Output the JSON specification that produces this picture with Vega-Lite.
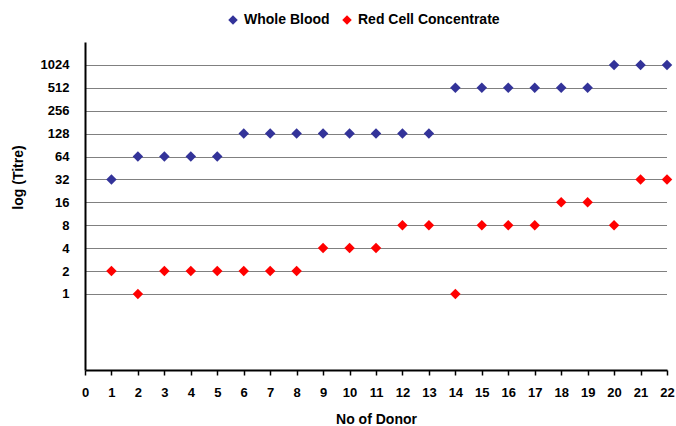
{
  "$schema": "https://vega.github.io/schema/vega-lite/v6.json",
  "width": 582,
  "height": 328,
  "autosize": {"type": "none"},
  "padding": {"left": 85, "top": 42, "right": 9, "bottom": 56},
  "background": "white",
  "config": {
    "view": {"stroke": null},
    "font": "Liberation Sans"
  },
  "data": {
    "values": [
      {"donor": 1, "series": "Whole Blood", "titre": 32},
      {"donor": 2, "series": "Whole Blood", "titre": 64},
      {"donor": 3, "series": "Whole Blood", "titre": 64},
      {"donor": 4, "series": "Whole Blood", "titre": 64},
      {"donor": 5, "series": "Whole Blood", "titre": 64},
      {"donor": 6, "series": "Whole Blood", "titre": 128},
      {"donor": 7, "series": "Whole Blood", "titre": 128},
      {"donor": 8, "series": "Whole Blood", "titre": 128},
      {"donor": 9, "series": "Whole Blood", "titre": 128},
      {"donor": 10, "series": "Whole Blood", "titre": 128},
      {"donor": 11, "series": "Whole Blood", "titre": 128},
      {"donor": 12, "series": "Whole Blood", "titre": 128},
      {"donor": 13, "series": "Whole Blood", "titre": 128},
      {"donor": 14, "series": "Whole Blood", "titre": 512},
      {"donor": 15, "series": "Whole Blood", "titre": 512},
      {"donor": 16, "series": "Whole Blood", "titre": 512},
      {"donor": 17, "series": "Whole Blood", "titre": 512},
      {"donor": 18, "series": "Whole Blood", "titre": 512},
      {"donor": 19, "series": "Whole Blood", "titre": 512},
      {"donor": 20, "series": "Whole Blood", "titre": 1024},
      {"donor": 21, "series": "Whole Blood", "titre": 1024},
      {"donor": 22, "series": "Whole Blood", "titre": 1024},
      {"donor": 1, "series": "Red Cell Concentrate", "titre": 2},
      {"donor": 2, "series": "Red Cell Concentrate", "titre": 1},
      {"donor": 3, "series": "Red Cell Concentrate", "titre": 2},
      {"donor": 4, "series": "Red Cell Concentrate", "titre": 2},
      {"donor": 5, "series": "Red Cell Concentrate", "titre": 2},
      {"donor": 6, "series": "Red Cell Concentrate", "titre": 2},
      {"donor": 7, "series": "Red Cell Concentrate", "titre": 2},
      {"donor": 8, "series": "Red Cell Concentrate", "titre": 2},
      {"donor": 9, "series": "Red Cell Concentrate", "titre": 4},
      {"donor": 10, "series": "Red Cell Concentrate", "titre": 4},
      {"donor": 11, "series": "Red Cell Concentrate", "titre": 4},
      {"donor": 12, "series": "Red Cell Concentrate", "titre": 8},
      {"donor": 13, "series": "Red Cell Concentrate", "titre": 8},
      {"donor": 14, "series": "Red Cell Concentrate", "titre": 1},
      {"donor": 15, "series": "Red Cell Concentrate", "titre": 8},
      {"donor": 16, "series": "Red Cell Concentrate", "titre": 8},
      {"donor": 17, "series": "Red Cell Concentrate", "titre": 8},
      {"donor": 18, "series": "Red Cell Concentrate", "titre": 16},
      {"donor": 19, "series": "Red Cell Concentrate", "titre": 16},
      {"donor": 20, "series": "Red Cell Concentrate", "titre": 8},
      {"donor": 21, "series": "Red Cell Concentrate", "titre": 32},
      {"donor": 22, "series": "Red Cell Concentrate", "titre": 32}
    ]
  },
  "mark": {"type": "point", "shape": "diamond", "filled": true, "size": 110, "opacity": 1},
  "encoding": {
    "x": {
      "field": "donor",
      "type": "quantitative",
      "scale": {"domain": [0, 22], "nice": false, "zero": false},
      "axis": {
        "title": "No of Donor",
        "values": [0,1,2,3,4,5,6,7,8,9,10,11,12,13,14,15,16,17,18,19,20,21,22],
        "grid": false,
        "domainColor": "black",
        "domainWidth": 2,
        "tickColor": "black",
        "tickWidth": 1.5,
        "tickSize": 5,
        "labelPadding": 11,
        "labelFont": "Liberation Sans",
        "labelFontSize": 13,
        "labelFontWeight": "bold",
        "labelColor": "black",
        "labelFlush": false,
        "titleFont": "Liberation Sans",
        "titleFontSize": 14,
        "titleFontWeight": "bold",
        "titleColor": "black",
        "titlePadding": 13
      }
    },
    "y": {
      "field": "titre",
      "type": "quantitative",
      "scale": {"type": "log", "base": 2, "domain": [0.1, 2048], "nice": false},
      "axis": {
        "title": "log (Titre)",
        "values": [1,2,4,8,16,32,64,128,256,512,1024],
        "format": "d",
        "grid": true,
        "gridColor": "black",
        "gridDash": [1, 1],
        "gridWidth": 1,
        "domainColor": "black",
        "domainWidth": 2,
        "ticks": false,
        "labelPadding": 16,
        "labelFont": "Liberation Sans",
        "labelFontSize": 13,
        "labelFontWeight": "bold",
        "labelColor": "black",
        "titleFont": "Liberation Sans",
        "titleFontSize": 14,
        "titleFontWeight": "bold",
        "titleColor": "black",
        "titleX": -67,
        "titleY": 135,
        "titleAngle": -90,
        "titleAlign": "center",
        "titleBaseline": "middle"
      }
    },
    "color": {
      "field": "series",
      "type": "nominal",
      "scale": {"domain": ["Whole Blood", "Red Cell Concentrate"], "range": ["#333399", "#FF0000"]},
      "legend": {
        "title": null,
        "orient": "none",
        "direction": "horizontal",
        "legendX": 141,
        "legendY": -29,
        "symbolType": "diamond",
        "symbolSize": 90,
        "symbolOpacity": 1,
        "labelFont": "Liberation Sans",
        "labelFontSize": 14,
        "labelFontWeight": "bold",
        "labelColor": "black",
        "labelOffset": 4,
        "columnPadding": 10
      }
    }
  }
}
